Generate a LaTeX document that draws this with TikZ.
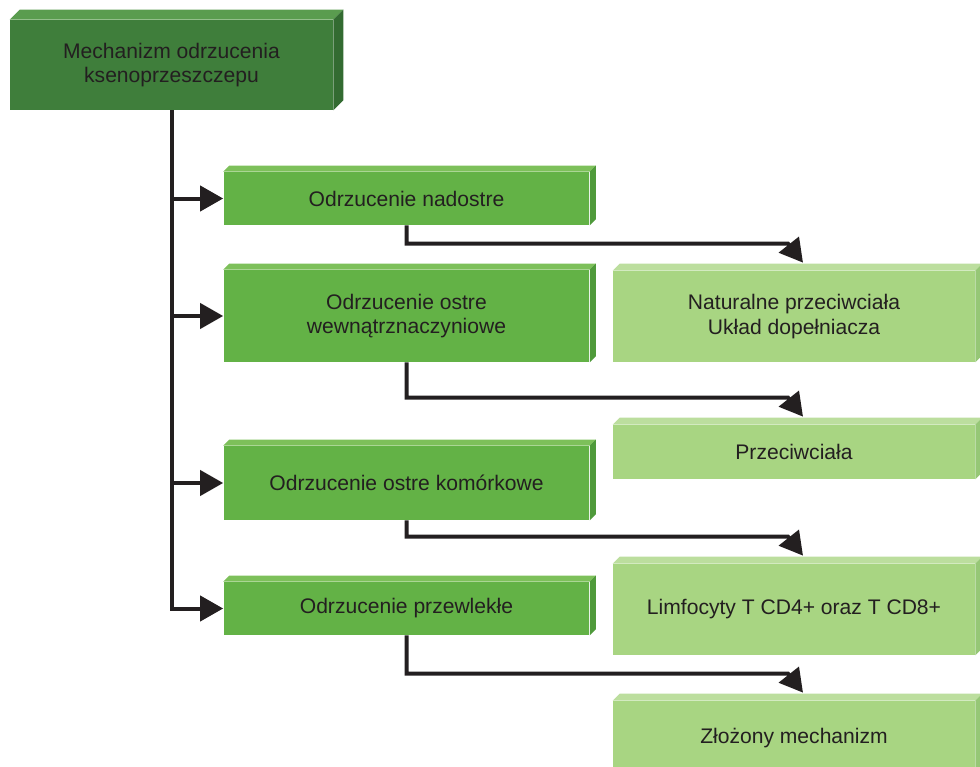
\documentclass[tikz,border=0pt]{standalone}
\usepackage{fontspec}
\setmainfont{Liberation Sans}
\usepackage{tikz}
\usetikzlibrary{arrows.meta,calc}

\definecolor{txt}{HTML}{231F20}
\definecolor{mainfront}{HTML}{3F7E3B}
\definecolor{maintop}{HTML}{5A9C4F}
\definecolor{mainside}{HTML}{336B31}
\definecolor{typefront}{HTML}{63B246}
\definecolor{typetop}{HTML}{7DC05A}
\definecolor{typeside}{HTML}{4F9A3B}
\definecolor{causefront}{HTML}{A8D582}
\definecolor{causetop}{HTML}{BCDE9E}
\definecolor{causeside}{HTML}{96C776}

% top and right face of a box
\newcommand{\bevel}[4]{%
  \fill[#3] (#1.north west) -- ++(#2,-#2) -- ([shift={(#2,-#2)}]#1.north east) -- (#1.north east) -- cycle;
  \fill[#4] (#1.north east) -- ++(#2,-#2) -- ([shift={(#2,-#2)}]#1.south east) -- (#1.south east) -- cycle;
}

\tikzset{
  box/.style={rectangle,inner sep=0pt,align=center,text=txt,font=\fontsize{12}{14}\selectfont},
  mainbox/.style={box,fill=mainfront,minimum width=6.46cm,minimum height=1.8cm},
  typebox/.style={box,fill=typefront,minimum width=7.32cm},
  causebox/.style={box,fill=causefront,minimum width=7.24cm},
  link/.style={draw=txt,line width=0.08cm},
  tip/.style={-{Triangle[length=0.46cm,width=0.5cm]}}
}

\begin{document}
\begin{tikzpicture}[x=0.02cm,y=-0.02cm]
  \useasboundingbox (0,0) rectangle (980,767);
  % Main box
  \node[mainbox] (main) at (171.5,65) {Mechanizm odrzucenia\\ksenoprzeszczepu};
  \bevel{main}{10}{maintop}{mainside}
  % Kinds of rejection
  \node[typebox,minimum height=1.06cm] (b1) at (406.5,198.5) {Odrzucenie nadostre};
  \node[typebox,minimum height=1.84cm] (b2) at (406.5,316) {Odrzucenie ostre\\wewnątrznaczyniowe};
  \node[typebox,minimum height=1.48cm] (b3) at (406.5,483) {Odrzucenie ostre komórkowe};
  \node[typebox,minimum height=1.06cm] (b4) at (406.5,608.5) {Odrzucenie przewlekłe};
  \foreach \b in {b1,b2,b3,b4} {\bevel{\b}{6}{typetop}{typeside}}
  % Causes
  \node[causebox,minimum height=1.82cm] (r1) at (794,316.5) {Naturalne przeciwciała\\Układ dopełniacza};
  \node[causebox,minimum height=1.08cm] (r2) at (794,452) {Przeciwciała};
  \node[causebox,minimum height=1.82cm] (r3) at (794,609.5) {Limfocyty T CD4+ oraz T CD8+};
  \node[causebox,minimum height=1.48cm] (r4) at (794,738) {Złożony mechanizm};
  \foreach \r in {r1,r2,r3,r4} {\bevel{\r}{7}{causetop}{causeside}}
  % Trunk and branches
  \draw[link,tip] (main.south) |- (b4.west);
  \foreach \b in {b1,b2,b3} {\draw[link,tip] (main.south |- \b.west) -- (\b.west);}
  % Kind to cause
  \foreach \b/\r in {b1/r1,b2/r2,b3/r3,b4/r4} {
    \draw[link,tip] (\b.south) |- ($(\r.north)+(-6,-27)$) -- ([shift={(9,-8)}]\r.north);
  }
\end{tikzpicture}
\end{document}
